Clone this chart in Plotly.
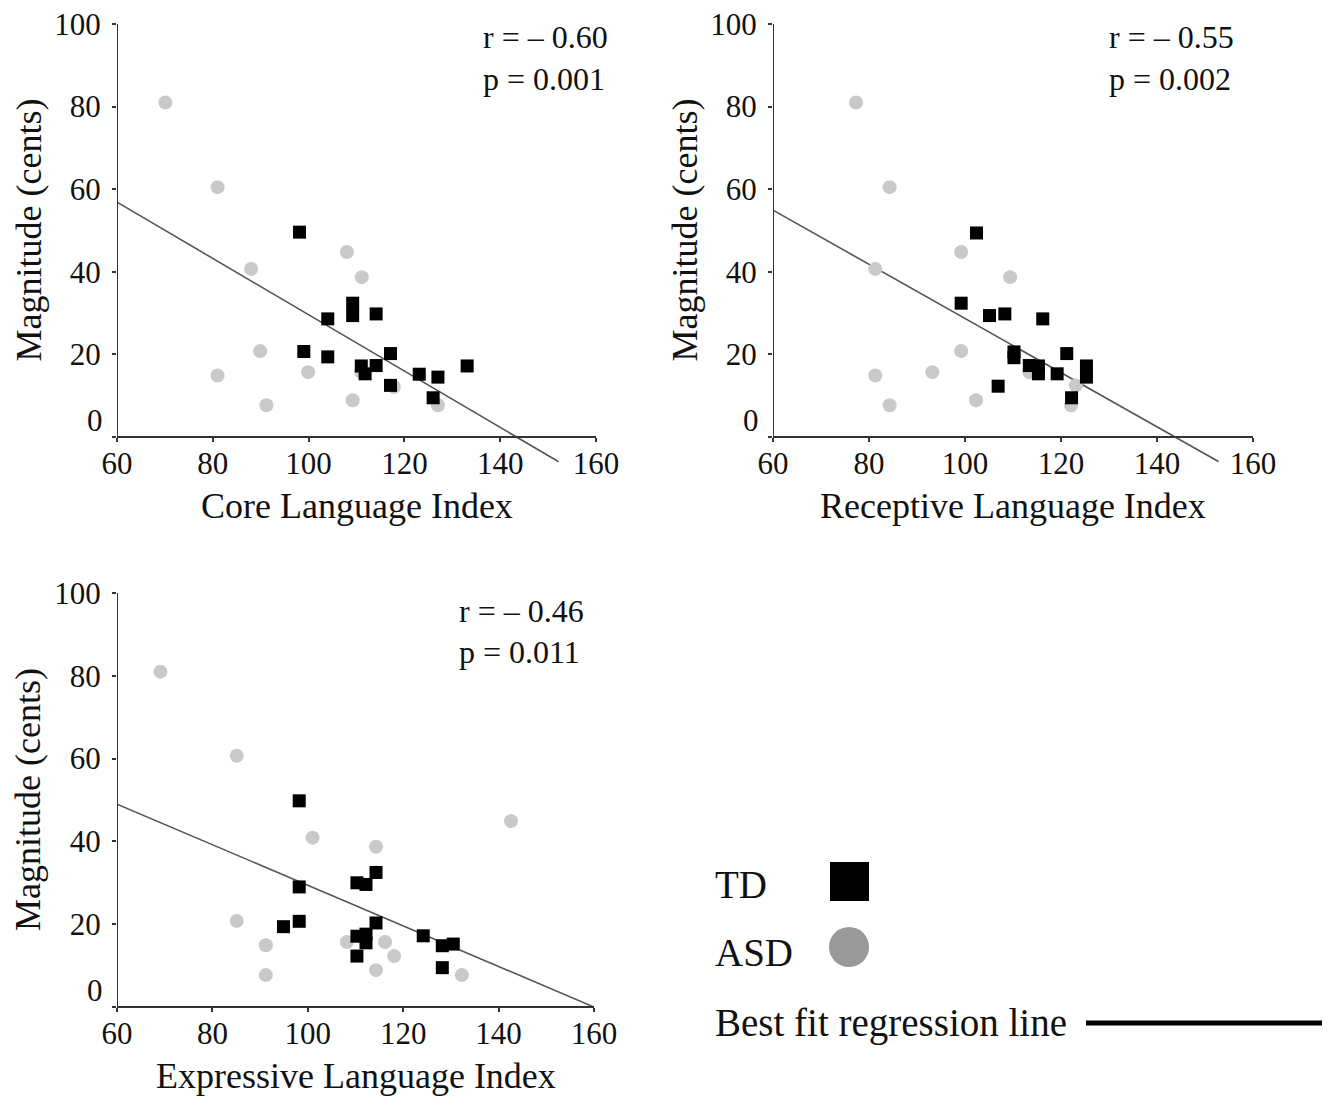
import plotly.graph_objects as go

# ---------------- data ----------------
core_td_x = [98.1, 109.2, 109.2, 104.0, 114.1, 99.0, 104.0, 117.1, 111.0, 111.8, 114.1, 117.1, 123.1, 127.0, 126.0, 133.1]
core_td_y = [49.6, 32.4, 29.4, 28.6, 29.8, 20.7, 19.4, 20.2, 17.2, 15.3, 17.3, 12.5, 15.2, 14.5, 9.5, 17.2]
core_asd_x = [70.1, 81.0, 88.0, 108.0, 111.1, 89.9, 81.0, 99.9, 91.2, 109.2, 127.0, 117.8, 111.0]
core_asd_y = [81.0, 60.5, 40.7, 44.8, 38.7, 20.8, 14.9, 15.7, 7.7, 8.9, 7.7, 12.1, 15.7]

rec_td_x = [102.4, 99.2, 105.1, 108.3, 116.2, 110.2, 110.2, 121.2, 113.4, 115.3, 115.3, 119.2, 125.3, 125.3, 106.9, 122.2]
rec_td_y = [49.4, 32.4, 29.4, 29.8, 28.6, 20.6, 19.2, 20.2, 17.3, 17.2, 15.3, 15.3, 17.2, 14.5, 12.3, 9.5]
rec_asd_x = [77.3, 84.3, 81.3, 99.2, 109.4, 99.2, 81.3, 93.2, 84.3, 102.3, 122.1, 113.4, 123.1]
rec_asd_y = [81.0, 60.5, 40.7, 44.8, 38.7, 20.8, 14.9, 15.7, 7.7, 8.9, 7.7, 15.7, 12.5]

exp_td_x = [98.2, 98.2, 110.3, 112.2, 114.3, 98.2, 94.9, 114.3, 110.3, 112.2, 112.2, 124.2, 128.2, 130.5, 110.3, 128.2]
exp_td_y = [49.8, 29.0, 30.0, 29.6, 32.5, 20.7, 19.4, 20.3, 17.1, 17.6, 15.5, 17.2, 14.8, 15.2, 12.3, 9.5]
exp_asd_x = [69.1, 85.1, 101.0, 114.3, 142.6, 85.1, 91.2, 108.2, 116.2, 118.1, 91.2, 114.3, 132.3]
exp_asd_y = [81.0, 60.7, 40.9, 38.7, 44.9, 20.8, 14.9, 15.7, 15.7, 12.3, 7.7, 8.9, 7.7]

# best-fit lines: intercept (at x = 0), slope, x extent
fit_intercept = [97.8, 94.3, 78.4]
fit_slope = [-0.682, -0.656, -0.49]
fit_x_start = [60, 60, 60]
fit_x_end = [152.2, 152.8, 160.0]

x_titles = ["Core Language Index", "Receptive Language Index", "Expressive Language Index"]
y_title = "Magnitude (cents)"
r_texts = ["r = \u2013 0.60", "r = \u2013 0.55", "r = \u2013 0.46"]
p_texts = ["p = 0.001", "p = 0.002", "p = 0.011"]
x_ticks = [60, 80, 100, 120, 140, 160]
y_ticks = [0, 20, 40, 60, 80, 100]
legend_labels = ["TD", "ASD", "Best fit regression line"]

# ---------------- layout helpers ----------------
W, H = 1334, 1104
OFF = 0  # body margin removed by post_script
FONT = "Liberation Serif, Times New Roman, serif"
AX = "#333333"
TXT = "#111111"

def px(p):
    return (p - OFF) / W

def py(p):
    return 1 - (p - OFF) / H

# panel pixel geometry: left, right, top (y=100), zero (y=0)
panels = [(117, 596, 24, 437), (773, 1253, 24, 437), (117, 594, 593, 1007)]
rp_pos = [(481, 37, 79), (1107, 37, 79), (457, 611, 652)]
Y_MIN = -8

datasets = [
    (core_td_x, core_td_y, core_asd_x, core_asd_y),
    (rec_td_x, rec_td_y, rec_asd_x, rec_asd_y),
    (exp_td_x, exp_td_y, exp_asd_x, exp_asd_y),
]

fig = go.Figure()
shapes = []
annotations = []
layout = {}

def ann(text, x, y, size, xanchor="center", angle=0):
    return dict(text=text, xref="paper", yref="paper", x=px(x), y=py(y),
                xanchor=xanchor, yanchor="middle", showarrow=False, textangle=angle,
                font=dict(family=FONT, size=size, color=TXT))

for i, ((l, r, t, z), (tdx, tdy, asx, asy)) in enumerate(zip(panels, datasets)):
    n = "" if i == 0 else str(i + 1)
    xa, ya = "x" + n, "y" + n
    bottom = z + (0 - Y_MIN) * (z - t) / 100.0
    layout["xaxis" + n] = dict(
        domain=[px(l), px(r)], range=[60, 160], anchor="free", position=py(z),
        tickvals=x_ticks, ticks="outside", ticklen=4, tickwidth=2, tickcolor=AX,
        showline=True, linecolor=AX, linewidth=2, showgrid=False, zeroline=False,
        automargin=False, ticklabelstandoff=-5, ticklabeloverflow="allow",
        tickfont=dict(family=FONT, size=31, color=TXT),
    )
    layout["yaxis" + n] = dict(
        domain=[py(bottom), py(t)], range=[Y_MIN, 100], anchor=xa,
        tickvals=y_ticks, ticktext=["" if v == 0 else str(v) for v in y_ticks],
        ticks="outside", ticklen=4, tickwidth=2, tickcolor=AX,
        showline=False, showgrid=False, zeroline=False, automargin=False,
        ticklabelstandoff=5, ticklabeloverflow="allow",
        tickfont=dict(family=FONT, size=31, color=TXT),
    )
    # y axis line from 0 to 100
    shapes.append(dict(type="line", xref=xa, yref=ya, x0=60, x1=60, y0=0, y1=100,
                       line=dict(color=AX, width=2)))
    # "0" label sits slightly above the axis corner
    annotations.append(ann("0", l - 12, z - 17, 31, xanchor="right"))
    # axis titles
    annotations.append(ann(x_titles[i], (l + r) / 2, z + 69, 36))
    annotations.append(ann(y_title, l - 89, (t + z) / 2, 36, angle=-90))
    # r / p
    rx, ry, pyy = rp_pos[i]
    annotations.append(ann(r_texts[i], rx, ry, 32, xanchor="left"))
    annotations.append(ann(p_texts[i], rx, pyy, 32, xanchor="left"))

    # regression line
    lx = [fit_x_start[i], fit_x_end[i]]
    ly = [fit_intercept[i] + fit_slope[i] * v for v in lx]
    fig.add_trace(go.Scatter(x=lx, y=ly, mode="lines", xaxis=xa, yaxis=ya,
                             line=dict(color="#555555", width=1.6), showlegend=False))
    # ASD
    fig.add_trace(go.Scatter(x=asx, y=asy, mode="markers", xaxis=xa, yaxis=ya,
                             marker=dict(symbol="circle", size=14, color="#c9c9c9", line=dict(width=0)),
                             showlegend=False, name="ASD"))
    # TD
    fig.add_trace(go.Scatter(x=tdx, y=tdy, mode="markers", xaxis=xa, yaxis=ya,
                             marker=dict(symbol="square", size=13, color="#000000", line=dict(width=0)),
                             showlegend=False, name="TD"))

# ---------------- legend (drawn manually) ----------------
for lab, yy in zip(legend_labels, [884, 952, 1023]):
    annotations.append(ann(lab, 713, yy, 39, xanchor="left"))
shapes.append(dict(type="rect", xref="paper", yref="paper", x0=px(830), x1=px(869),
                   y0=py(901), y1=py(862), fillcolor="#000", line=dict(width=0)))
shapes.append(dict(type="circle", xref="paper", yref="paper", x0=px(829), x1=px(869),
                   y0=py(967), y1=py(927), fillcolor="#999999", line=dict(width=0)))
shapes.append(dict(type="line", xref="paper", yref="paper", x0=px(1086), x1=px(1322),
                   y0=py(1023), y1=py(1023), line=dict(color="#000", width=5)))

fig.update_layout(
    template="none",
    width=W, height=H, margin=dict(l=0, r=0, t=0, b=0, pad=0),
    paper_bgcolor="white", plot_bgcolor="white",
    shapes=shapes, annotations=annotations, showlegend=False,
    **layout,
)

fig.write_html("out.html", config={"displayModeBar": False},
               post_script="document.body.style.margin='0px';")
